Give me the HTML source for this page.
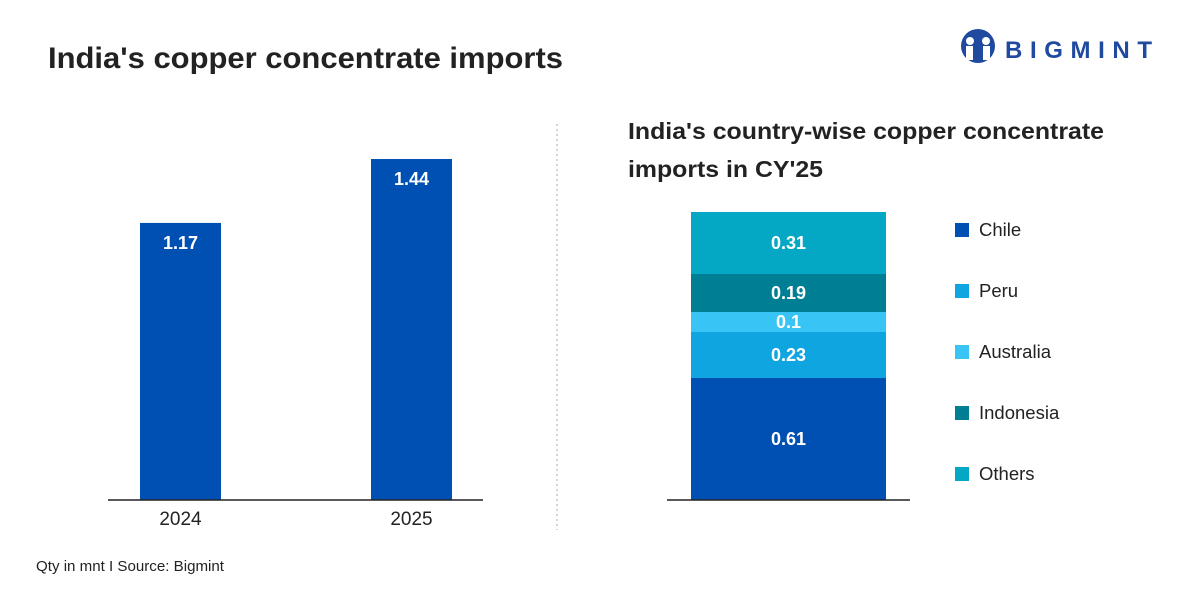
<!DOCTYPE html>
<html><head><meta charset="utf-8"><style>
body{margin:0;width:1200px;height:600px;background:#fff;font-family:"Liberation Sans",sans-serif;overflow:hidden;position:relative}
</style></head><body>
<svg width="1200" height="600" style="position:absolute;left:0;top:0">
<text x="48" y="68" font-size="30" font-weight="bold" fill="#222" textLength="515" lengthAdjust="spacingAndGlyphs">India's copper concentrate imports</text>
<g>
<circle cx="978" cy="46" r="17" fill="#1f4aa0"/>
<circle cx="970" cy="41" r="4" fill="#fff"/><circle cx="986" cy="41" r="4" fill="#fff"/>
<rect x="966" y="46" width="7" height="14" fill="#fff"/><rect x="983" y="46" width="7" height="14" fill="#fff"/>
<text x="1005" y="58" font-size="24" font-weight="bold" fill="#1f4aa0" textLength="147" lengthAdjust="spacing">BIGMINT</text>
</g>
<line x1="557" y1="124" x2="557" y2="530" stroke="#aaa" stroke-dasharray="2,3"/>
<text x="628" y="139" font-size="23" font-weight="bold" fill="#222" textLength="476" lengthAdjust="spacingAndGlyphs">India's country-wise copper concentrate</text>
<text x="628" y="177" font-size="23" font-weight="bold" fill="#222" textLength="195" lengthAdjust="spacingAndGlyphs">imports in CY'25</text>
<g id="left"></g><g id="right"></g><g id="legend"></g>
<line x1="108" y1="500" x2="483" y2="500" stroke="#222" stroke-width="1.5"/>
<line x1="667" y1="500" x2="910" y2="500" stroke="#222" stroke-width="1.5"/>
<text x="36" y="571" font-size="15" fill="#222" textLength="188" lengthAdjust="spacingAndGlyphs">Qty in mnt  I  Source: Bigmint</text>
</svg>
<script>
const years=['2024','2025'];
const totals=[1.17,1.44];
const countries=['Chile','Peru','Australia','Indonesia','Others'];
const shares=[0.61,0.23,0.1,0.19,0.31];
const colors=['#0050b4','#0ea5e0','#38c4f5','#007f94','#05a8c4'];
const NS='http://www.w3.org/2000/svg';
function mk(t,a,p){const e=document.createElementNS(NS,t);for(const k in a)e.setAttribute(k,a[k]);p.appendChild(e);return e;}
const yL=v=>500-v*236.8, xL=i=>140+i*231;
const L=document.getElementById('left');
years.forEach((y,i)=>{
 const r=mk('rect',{x:xL(i),y:yL(totals[i]),width:81,height:500-yL(totals[i]),fill:'#0050b4'},L);
 
 
 const t=mk('text',{x:xL(i)+40.5,y:yL(totals[i])+26,'font-size':18,'font-weight':'bold',fill:'#fff','text-anchor':'middle'},L);t.textContent=totals[i];
 
 
 const x=mk('text',{x:xL(i)+40.5,y:525,'font-size':19,fill:'#222','text-anchor':'middle'},L);x.textContent=y;
 
 
});
const R=document.getElementById('right');const yR=v=>500-v*200;let cum=0;
countries.forEach((c,i)=>{
 const top=yR(cum+shares[i]),bot=yR(cum);
 const r=mk('rect',{x:691,y:top,width:195,height:bot-top,fill:colors[i]},R);
 
 
 const t=mk('text',{x:788.5,y:(top+bot)/2+6,'font-size':18,'font-weight':'bold',fill:'#fff','text-anchor':'middle'},R);t.textContent=shares[i];
 
 
 cum+=shares[i];
});
const G=document.getElementById('legend');
countries.forEach((c,i)=>{
 const g=mk('g',{},G);
 
 
 const y=230+i*61;
 mk('rect',{x:955,y:y-7,width:14,height:14,fill:colors[i]},g);
 const t=mk('text',{x:979,y:y+6,'font-size':18.5,fill:'#222'},g);t.textContent=c;
});
</script>
</body></html>
